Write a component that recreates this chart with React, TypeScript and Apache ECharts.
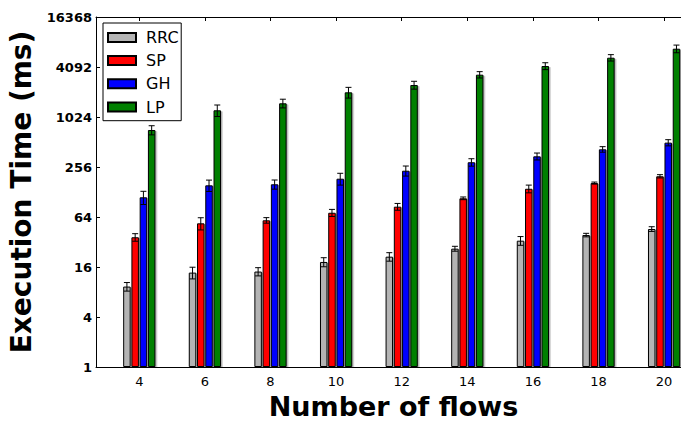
import React, { useEffect, useRef } from "react";
import * as echarts from "echarts";

const flows = [4, 6, 8, 10, 12, 14, 16, 18, 20];
const seriesNames = ["RRC", "SP", "GH", "LP"];
const seriesColors = ["#b4b4b4", "#ff0000", "#0000ff", "#008000"];
const rrc = [9.3, 13.7, 14.1, 18.4, 21.3, 26.6, 33.2, 38.8, 45.9];
const rrcErr = [1.1, 2.2, 1.6, 2.3, 2.5, 1.8, 4, 1.9, 3];
const sp = [36.5, 53.7, 58.4, 72, 85.2, 107.5, 140, 164, 198];
const spErr = [3.8, 9, 4.5, 7, 8, 4, 15, 4.6, 9];
const gh = [110.5, 154, 158.5, 185, 231, 292, 344, 418, 503];
const ghErr = [20, 24, 20, 30, 32, 30, 33, 32, 43];
const lp = [714, 1233, 1497, 2030, 2486, 3310, 4210, 5300, 6800];
const lpErr = [90, 195, 180, 300, 270, 290, 400, 470, 720];
const yTickLabels = ["1", "4", "16", "64", "256", "1024", "4092", "16368"];

const values = [rrc, sp, gh, lp];
const errors = [rrcErr, spErr, ghErr, lpErr];

const FONT = "DejaVu Sans";
const BAR_W = 7.5;
const BAR_GAP = 0.1;
const X_MIN = 2.68;
const X_MAX = 20.82;

export default function App() {
  const ref = useRef<HTMLDivElement>(null);
  useEffect(() => {
    if (!ref.current) return;
    const chart = echarts.init(ref.current, null, { renderer: "svg" });
    const pitch = BAR_W * (1 + BAR_GAP);
    const barSeries = seriesNames.map((name, k) => ({
      name,
      type: "bar",
      barWidth: BAR_W,
      barGap: BAR_GAP * 100 + "%",
      data: flows.map((f, i) => [f, values[k][i]]),
      itemStyle: {
        color: seriesColors[k],
        borderColor: "#000",
        borderWidth: 1,
        shadowColor: "rgba(0,0,0,0.3)",
        shadowOffsetX: 1.5,
        shadowOffsetY: 1,
        shadowBlur: 0,
      },
      z: 2,
    }));
    const errSeries = seriesNames.map((name, k) => ({
      name: name + " err",
      type: "custom",
      z: 5,
      data: flows.map((f, i) => [f, values[k][i], errors[k][i]]),
      encode: { x: 0, y: 1 },
      renderItem: (params: any, api: any) => {
        const x = api.value(0);
        const y = api.value(1);
        const e = api.value(2);
        const off = (k - 1.5) * pitch;
        const top = api.coord([x, y + e]);
        const bot = api.coord([x, Math.max(y - e, 1)]);
        const cx = top[0] + off;
        const cap = 3;
        const st = { stroke: "#000", lineWidth: 1 };
        return {
          type: "group",
          children: [
            { type: "line", shape: { x1: cx, y1: top[1], x2: cx, y2: bot[1] }, style: st },
            { type: "line", shape: { x1: cx - cap, y1: top[1], x2: cx + cap, y2: top[1] }, style: st },
            { type: "line", shape: { x1: cx - cap, y1: bot[1], x2: cx + cap, y2: bot[1] }, style: st },
          ],
        };
      },
    }));
    chart.setOption({
      animation: false,
      textStyle: { fontFamily: FONT },
      grid: { left: 96, top: 17, width: 595, height: 350, containLabel: false, outerBoundsMode: "none" },
      legend: {
        data: seriesNames,
        orient: "vertical",
        left: 103,
        top: 23,
        padding: [6.4, 2.6, 5.7, 4],
        itemWidth: 28,
        itemHeight: 9,
        itemGap: 7.2,
        borderColor: "#000",
        borderWidth: 1,
        backgroundColor: "#fff",
        icon: "rect",
        itemStyle: { shadowColor: "transparent", shadowOffsetX: 0, shadowOffsetY: 0 },
        textStyle: { fontFamily: FONT, fontSize: 16, lineHeight: 16, color: "#000", padding: [0, 0, 0, 5] },
      },
      xAxis: [
        {
          type: "value",
          min: X_MIN,
          max: X_MAX,
          name: "Number of flows",
          nameLocation: "middle",
          nameGap: 27,
          nameTextStyle: { fontFamily: FONT, fontSize: 27, lineHeight: 24, fontWeight: "bold", color: "#000" },
          axisLine: { show: true, lineStyle: { color: "#000", width: 1 } },
          axisTick: { show: false },
          axisLabel: {
            customValues: flows,
            fontFamily: FONT,
            fontSize: 13,
            color: "#000",
            margin: 8,
          },
          splitLine: { show: false },
        },
        {
          type: "value",
          position: "top",
          min: X_MIN,
          max: X_MAX,
          axisLine: { show: true, lineStyle: { color: "#000", width: 1 } },
          axisTick: { show: true, inside: true, length: 4, customValues: flows, lineStyle: { color: "#000" } },
          axisLabel: { show: false },
          splitLine: { show: false },
        },
      ],
      yAxis: {
        type: "log",
        logBase: 4,
        min: 1,
        max: 16384,
        name: "Execution Time (ms)",
        nameLocation: "middle",
        nameGap: 51,
        nameTextStyle: { fontFamily: FONT, fontSize: 28, fontWeight: "bold", color: "#000" },
        axisLine: { show: true, lineStyle: { color: "#000", width: 1 } },
        axisTick: { show: true, inside: true, length: 4, lineStyle: { color: "#000" } },
        axisLabel: {
          fontFamily: FONT,
          fontSize: 13,
          fontWeight: "bold",
          color: "#000",
          margin: 4,
          formatter: (v: number) => {
            const idx = Math.round(Math.log(v) / Math.log(4));
            return yTickLabels[idx] ?? String(v);
          },
        },
        splitLine: { show: false },
        minorTick: { show: false },
      },
      series: [...barSeries, ...errSeries],
    });
    return () => chart.dispose();
  }, []);
  return (
    <div
      ref={ref}
      style={{ position: "fixed", left: 0, top: 0, width: 681, height: 422, background: "#fff" }}
    />
  );
}
